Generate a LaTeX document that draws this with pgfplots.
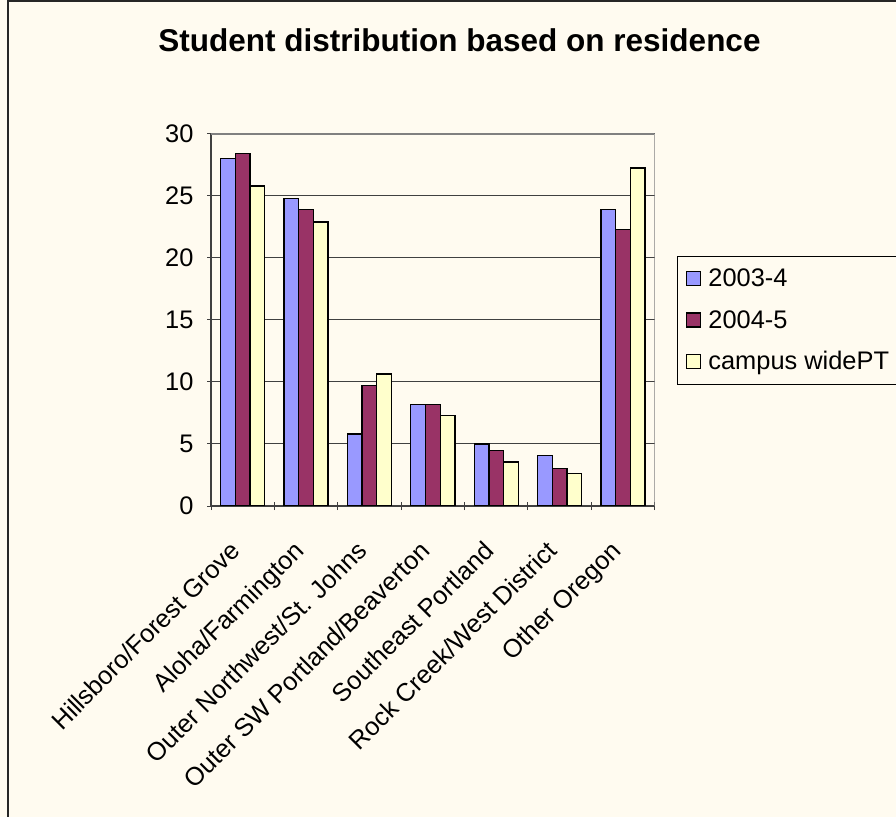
\documentclass[border=0pt]{standalone}
\usepackage{fontspec}
\setmainfont{Liberation Sans}
\usepackage{pgfplots}
\pgfplotsset{compat=1.18}
\definecolor{bg}{RGB}{255,251,240}
\definecolor{c1}{RGB}{153,153,255}
\definecolor{c2}{RGB}{153,51,102}
\definecolor{c3}{RGB}{255,255,204}
\definecolor{gridc}{RGB}{64,64,64}
\definecolor{boxc}{RGB}{128,128,128}
\newcommand\lbl{\fontsize{25.4bp}{30bp}\selectfont}
\pgfplotsset{mylegend/.style={legend image code/.code={\draw[##1, draw=black, line width=1.2bp] (0bp,-7bp) rectangle (14bp,7bp);}}}
\begin{document}
\begin{tikzpicture}
\clip (0,0) rectangle (896bp,817bp);
\fill[bg] (0,0) rectangle (896bp,817bp);
\draw[line width=2bp, black!85] (8bp,-5bp) -- (8bp,816bp) -- (905bp,816bp);
\begin{axis}[
  at={(211bp,311bp)}, anchor=south west,
  scale only axis, width=443.7bp, height=372bp,
  ybar=0pt, bar width=14.7bp,
  xmin=-0.5, xmax=6.5, ymin=0, ymax=30,
  xtick={-0.5,0.5,...,6.5}, x tick label as interval,
  xticklabels={Hillsboro/Forest Grove,Aloha/Farmington,Outer Northwest/St. Johns,Outer SW Portland/Beaverton,Southeast Portland,Rock Creek/West District,Other Oregon},
  xticklabel style={font=\lbl, xshift=-14bp, yshift=-26bp, rotate=45, anchor=north east, inner sep=2bp},
  ytick={0,5,...,30},
  yticklabel style={font=\lbl, xshift=-10bp},
  /pgf/number format/assume math mode=true,
  tick align=outside, major tick length=8bp,
  tick style={draw=gridc, line width=1bp},
  axis lines=left, axis line style={-, draw=gridc, line width=1.2bp},
  ymajorgrids, major grid style={draw=gridc, line width=1bp},
  axis background/.style={fill=bg},
  title={Student distribution based on residence},
  title style={font=\bfseries\fontsize{31.5bp}{36bp}\selectfont, at={(axis description cs:0.56,1.207)}, anchor=base, inner sep=0pt},
  legend style={at={(axis description cs:1.0496,0.673)}, anchor=north west, draw=black, line width=1bp, fill=bg, font=\lbl, row sep=18bp, column sep=5bp, inner xsep=9bp, inner ysep=11bp},
  legend cell align=left,
]
\addplot[fill=c1, draw=black, line width=1.3bp, mylegend] coordinates {(0,28.05) (1,24.8) (2,5.8) (3,8.2) (4,5.0) (5,4.05) (6,23.9)};
\addplot[fill=c2, draw=black, line width=1.3bp, mylegend] coordinates {(0,28.4) (1,23.9) (2,9.7) (3,8.2) (4,4.5) (5,3.05) (6,22.3)};
\addplot[fill=c3, draw=black, line width=1.3bp, mylegend] coordinates {(0,25.8) (1,22.9) (2,10.65) (3,7.3) (4,3.55) (5,2.6) (6,27.25)};
\legend{2003-4,2004-5,campus widePT}
\draw[boxc, line width=1.2bp] (rel axis cs:0,1) -- (rel axis cs:1,1) -- (rel axis cs:1,0);
\end{axis}
\end{tikzpicture}
\end{document}
